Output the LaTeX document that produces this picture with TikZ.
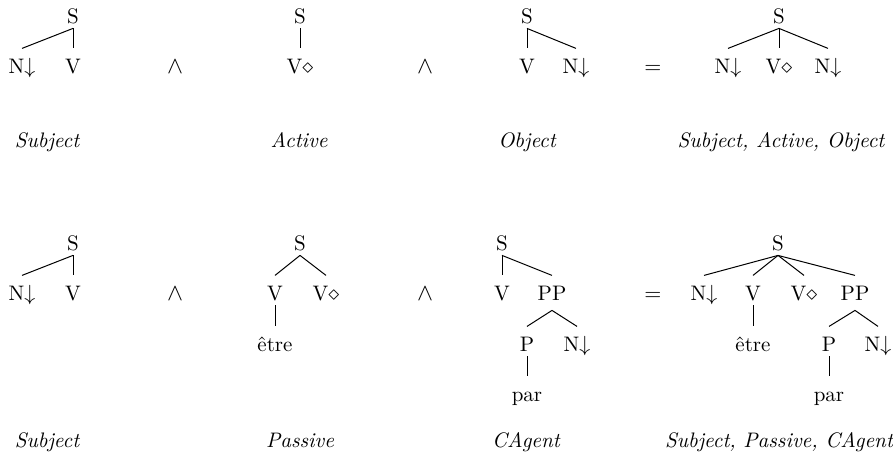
\documentclass[tikz,border=0pt]{standalone}
\usepackage{fontspec}
\begin{document}
\begin{tikzpicture}[x=0.5pt,y=-0.5pt,
  font=\fontsize{10.5}{12}\selectfont,
  lbl/.style={inner sep=0pt,anchor=base,text height=7.1pt,text depth=0pt},
  captxt/.style={inner sep=0pt,anchor=base,font=\fontsize{10.5}{12}\selectfont\itshape},
  op/.style={inner sep=0pt,anchor=base},
  bigop/.style={inner sep=0pt,anchor=base,font=\fontsize{12.5}{14}\selectfont},
  edge/.style={line width=0.5pt}]
\useasboundingbox (0,0) rectangle (893,456);
\newcommand\tedge[3][-2.5pt]{\draw[edge] ([yshift=#1]#2.south) -- ([yshift=5pt]#3.north);}

% ---------- top row ----------
\node[lbl] (a1S) at (73,23) {S};
\node[lbl] (a1N) at (22,73) {N$\downarrow$};
\node[lbl] (a1V) at (73,73) {V};
\node[captxt] (a1c) at (47,147) {Subject};
\tedge{a1S}{a1N}
\tedge{a1S}{a1V}

\node[bigop] (w1) at (175,73) {$\wedge$};

\node[lbl] (a2S) at (300,23) {S};
\node[lbl] (a2V) at (300,73) {V$\diamond$};
\node[captxt] (a2c) at (299,147) {Active};
\tedge{a2S}{a2V}

\node[bigop] (w2) at (425,73) {$\wedge$};

\node[lbl] (a3S) at (527,23) {S};
\node[lbl] (a3V) at (527,73) {V};
\node[lbl] (a3N) at (576,73) {N$\downarrow$};
\node[captxt] (a3c) at (527,147) {Object};
\tedge{a3S}{a3V}
\tedge{a3S}{a3N}

\node[op] (eq1) at (653,73) {$=$};

\node[lbl] (a4S) at (779,23) {S};
\node[lbl] (a4N1) at (728,73) {N$\downarrow$};
\node[lbl] (a4V) at (779,73) {V$\diamond$};
\node[lbl] (a4N2) at (828,73) {N$\downarrow$};
\node[captxt] (a4c) at (781,147) {Subject, Active, Object};
\tedge{a4S}{a4N1}
\tedge{a4S}{a4V}
\tedge{a4S}{a4N2}

% ---------- bottom row ----------
\node[lbl] (b1S) at (73,250) {S};
\node[lbl] (b1N) at (22,300) {N$\downarrow$};
\node[lbl] (b1V) at (73,300) {V};
\node[captxt] (b1c) at (47,447) {Subject};
\tedge{b1S}{b1N}
\tedge{b1S}{b1V}

\node[bigop] (w3) at (175,300) {$\wedge$};

\node[lbl] (b2S) at (300,250) {S};
\node[lbl] (b2V) at (275,300) {V};
\node[lbl] (b2Vd) at (326,300) {V$\diamond$};
\node[lbl] (b2e) at (275,351) {être};
\node[captxt] (b2c) at (300,447) {Passive};
\tedge{b2S}{b2V}
\tedge{b2S}{b2Vd}
\tedge{b2V}{b2e}

\node[bigop] (w4) at (425,300) {$\wedge$};

\node[lbl] (b3S) at (502,250) {S};
\node[lbl] (b3V) at (502,300) {V};
\node[lbl] (b3PP) at (552,300) {PP};
\node[lbl] (b3P) at (527,351) {P};
\node[lbl] (b3N) at (577,351) {N$\downarrow$};
\node[lbl] (b3par) at (527,401) {par};
\node[captxt] (b3c) at (526,447) {CAgent};
\tedge{b3S}{b3V}
\tedge{b3S}{b3PP}
\tedge[-5pt]{b3PP}{b3P}
\tedge[-5pt]{b3PP}{b3N}
\tedge{b3P}{b3par}

\node[op] (eq2) at (653,300) {$=$};

\node[lbl] (b4S) at (778,250) {S};
\node[lbl] (b4N) at (704,300) {N$\downarrow$};
\node[lbl] (b4V) at (753,300) {V};
\node[lbl] (b4Vd) at (804,300) {V$\diamond$};
\node[lbl] (b4PP) at (855,300) {PP};
\node[lbl] (b4e) at (753,351) {être};
\node[lbl] (b4P) at (829,351) {P};
\node[lbl] (b4N2) at (878,351) {N$\downarrow$};
\node[lbl] (b4par) at (829,401) {par};
\node[captxt] (b4c) at (779,447) {Subject, Passive, CAgent};
\tedge{b4S}{b4N}
\tedge{b4S}{b4V}
\tedge{b4S}{b4Vd}
\tedge{b4S}{b4PP}
\tedge{b4V}{b4e}
\tedge[-5pt]{b4PP}{b4P}
\tedge[-5pt]{b4PP}{b4N2}
\tedge{b4P}{b4par}
\end{tikzpicture}
\end{document}
